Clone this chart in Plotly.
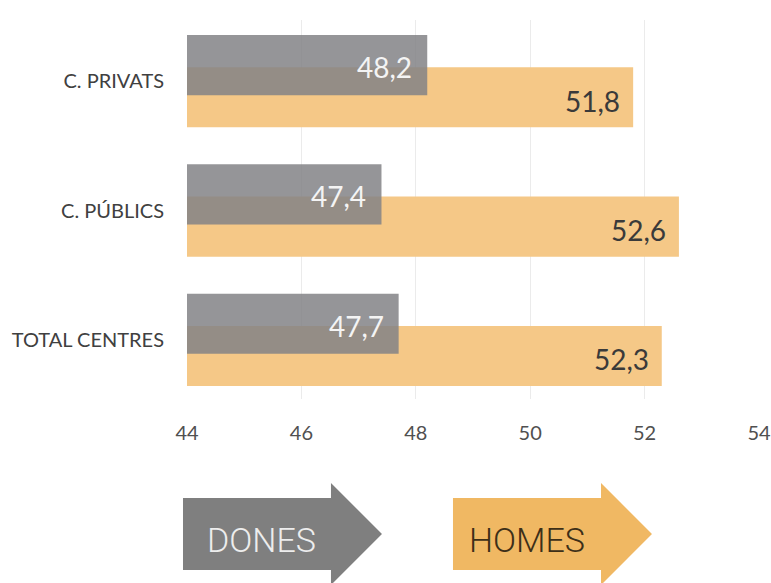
import plotly.graph_objects as go

# -----------------------------
# Data
# -----------------------------
categories = ["C. PRIVATS", "C. PÚBLICS", "TOTAL CENTRES"]
dones = [48.2, 47.4, 47.7]
homes = [51.8, 52.6, 52.3]
dones_labels = ["48,2", "47,4", "47,7"]
homes_labels = ["51,8", "52,6", "52,3"]
x_ticks = [44, 46, 48, 50, 52, 54]

pos = list(range(len(categories)))

GRAY = "rgba(131,131,134,0.85)"
ORANGE = "#F5C887"
BAR_W = 0.465

W, H = 771, 583

# plot area in pixels (for legend arrows)
L, R, T, B = 187, 759, 20, 399


def px(x):
    return (x - L) / (R - L)


def py(y):
    return (B - y) / (B - T)


def arrow_path(x0, x1, tip):
    pts = [(x0, 498), (x1, 498), (x1, 483), (tip, 534), (x1, 585), (x1, 570), (x0, 570)]
    return "M " + " L ".join(f"{px(a):.4f},{py(b):.4f}" for a, b in pts) + " Z"


fig = go.Figure()

fig.add_trace(go.Bar(
    orientation="h",
    y=pos,
    x=homes,
    width=BAR_W,
    offset=-0.108,
    marker=dict(color=ORANGE, line=dict(width=0)),
    name="HOMES",
    showlegend=False,
))

fig.add_trace(go.Bar(
    orientation="h",
    y=pos,
    x=dones,
    width=BAR_W,
    offset=-0.357,
    marker=dict(color=GRAY, line=dict(width=0)),
    name="DONES",
    showlegend=False,
))

# value labels
for p, v, t in zip(pos, dones, dones_labels):
    fig.add_annotation(x=v, y=p - 0.11, text=t, showarrow=False, xanchor="right",
                       xshift=-13, font=dict(size=28, color="#F4F4F4", family="Lato"))
for p, v, t in zip(pos, homes, homes_labels):
    fig.add_annotation(x=v, y=p + 0.15, text=t, showarrow=False, xanchor="right",
                       xshift=-11, font=dict(size=28, color="#3A3A3A", family="Lato"))

# legend arrows
fig.add_shape(type="path", xref="paper", yref="paper", path=arrow_path(183, 331, 382),
              fillcolor="#7F7F7F", line=dict(width=0))
fig.add_shape(type="path", xref="paper", yref="paper", path=arrow_path(453, 601, 652),
              fillcolor="#F0B863", line=dict(width=0))
fig.add_annotation(xref="paper", yref="paper", x=px(261), y=py(540), text="DONES",
                   xanchor="center", yanchor="middle", showarrow=False,
                   font=dict(size=34, color="#EDEDED", family="Roboto", weight=300))
fig.add_annotation(xref="paper", yref="paper", x=px(527), y=py(540), text="HOMES",
                   xanchor="center", yanchor="middle", showarrow=False,
                   font=dict(size=34, color="#3D2F18", family="Roboto", weight=300))

fig.update_layout(
    barmode="overlay",
    width=W,
    height=H,
    margin=dict(l=L, r=W - R, t=T, b=H - B),
    plot_bgcolor="white",
    paper_bgcolor="white",
    font=dict(family="Lato", color="#404040"),
)

fig.update_xaxes(
    range=[44, 54],
    tickvals=x_ticks,
    ticktext=[str(v) for v in x_ticks],
    showgrid=True,
    gridcolor="#EBEBEB",
    gridwidth=1,
    zeroline=False,
    showline=False,
    automargin=False,
    ticklabelstandoff=20,
    tickfont=dict(size=20, color="#505050"),
)

fig.update_yaxes(
    range=[2.457, -0.473],
    tickvals=pos,
    ticktext=categories,
    showgrid=False,
    zeroline=False,
    showline=False,
    automargin=False,
    ticklabelstandoff=22,
    tickfont=dict(size=20, color="#404040"),
)

# drop the default page margin so the figure sits at the window origin
fig.write_html("out.html", config={"displayModeBar": False},
               post_script="document.body.style.margin='0';")
